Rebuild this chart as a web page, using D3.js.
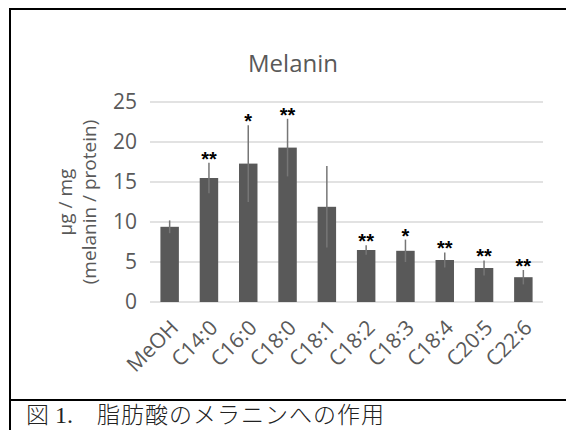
<!DOCTYPE html>
<html>
<head>
<meta charset="utf-8">
<script src="https://cdn.jsdelivr.net/npm/d3@7"></script>
<style>
  html, body { margin: 0; padding: 0; background: #fff; }
  svg { display: block; }
</style>
</head>
<body>
<svg id="chart" width="566" height="430"></svg>
<script>
// data
var categories = ["MeOH", "C14:0", "C16:0", "C18:0", "C18:1", "C18:2", "C18:3", "C18:4", "C20:5", "C22:6"];
var means  = [9.4, 15.5, 17.3, 19.3, 11.9, 6.5, 6.4, 5.25, 4.25, 3.1];
var errors = [0.8, 1.9, 4.8, 3.6, 5.1, 0.6, 1.4, 0.95, 0.95, 0.9];
var marks  = ["", "**", "*", "**", "", "**", "*", "**", "**", "**"];
var yTicks = [0, 5, 10, 15, 20, 25];

var data = categories.map(function(c, i) {
  return { cat: c, mean: means[i], err: errors[i], mark: marks[i] };
});

var svg = d3.select("#chart");
var gray = "#595959";
var font = "'Open Sans', 'DejaVu Sans', sans-serif";

svg.append("rect").attr("width", 566).attr("height", 430).attr("fill", "#fff");

// frame
svg.append("line").attr("x1", 9).attr("x2", 566).attr("y1", 9).attr("y2", 9)
  .attr("stroke", "#000").attr("stroke-width", 2);
svg.append("line").attr("x1", 10).attr("x2", 10).attr("y1", 8).attr("y2", 430)
  .attr("stroke", "#000").attr("stroke-width", 2);
svg.append("line").attr("x1", 9).attr("x2", 566).attr("y1", 400).attr("y2", 400)
  .attr("stroke", "#000").attr("stroke-width", 2);

// scales
var x = d3.scaleBand().domain(categories).range([150, 543])
  .paddingInner(0.53).paddingOuter(0.265);
var y = d3.scaleLinear().domain([0, 25]).range([302, 102]);

// gridlines
svg.append("g").selectAll("line")
  .data(yTicks)
  .enter().append("line")
    .attr("x1", 150).attr("x2", 543)
    .attr("y1", function(d) { return y(d); })
    .attr("y2", function(d) { return y(d); })
    .attr("stroke", "#d9d9d9")
    .attr("stroke-width", 1.5);

// y axis labels
var yAxis = svg.append("g")
    .attr("transform", "translate(137,0)")
    .call(d3.axisLeft(y).tickValues(yTicks).tickSize(0).tickPadding(0));
yAxis.select(".domain").remove();
yAxis.selectAll("text")
    .attr("fill", gray)
    .style("font-family", font)
    .style("font-size", "21px");

// y axis title (two lines)
var yTitle = svg.append("text")
    .attr("transform", "translate(0,202) rotate(-90)")
    .attr("text-anchor", "middle")
    .attr("fill", gray)
    .style("font-family", font)
    .style("font-size", "19px");
yTitle.append("tspan").attr("x", 0).attr("y", 72).text("μg / mg");
yTitle.append("tspan").attr("x", 0).attr("y", 96).text("(melanin / protein)");

// chart title
svg.append("text")
    .attr("x", 293).attr("y", 72)
    .attr("text-anchor", "middle")
    .attr("fill", gray)
    .style("font-family", font)
    .style("font-size", "24px")
    .text("Melanin");

// bars
svg.append("g").selectAll("rect")
  .data(data)
  .enter().append("rect")
    .attr("x", function(d) { return x(d.cat); })
    .attr("width", x.bandwidth())
    .attr("y", function(d) { return y(d.mean); })
    .attr("height", function(d) { return y(0) - y(d.mean); })
    .attr("fill", gray);

// error bars
svg.append("g").selectAll("line")
  .data(data)
  .enter().append("line")
    .attr("x1", function(d) { return x(d.cat) + x.bandwidth() / 2; })
    .attr("x2", function(d) { return x(d.cat) + x.bandwidth() / 2; })
    .attr("y1", function(d) { return y(d.mean - d.err); })
    .attr("y2", function(d) { return y(d.mean + d.err); })
    .attr("stroke", "#767676")
    .attr("stroke-width", 1.5);

// significance marks
svg.append("g").selectAll("text")
  .data(data)
  .enter().append("text")
    .attr("x", function(d) { return x(d.cat) + x.bandwidth() / 2; })
    .attr("y", function(d) { return y(d.mean + d.err) + 3; })
    .attr("text-anchor", "middle")
    .attr("fill", "#000")
    .style("font-family", "'Liberation Sans', Arial, sans-serif")
    .style("font-weight", "bold")
    .style("font-size", "20px")
    .text(function(d) { return d.mark; });

// x axis labels
var xAxis = svg.append("g")
    .attr("transform", "translate(0,302)")
    .call(d3.axisBottom(x).tickSize(0).tickPadding(0));
xAxis.select(".domain").remove();
xAxis.selectAll("text")
    .attr("fill", gray)
    .style("font-family", font)
    .style("font-size", "21px")
    .attr("text-anchor", "end")
    .attr("dy", 0)
    .attr("transform", "translate(10,27) rotate(-45)");

// caption
var cap = svg.append("g")
    .attr("fill", "#222")
    .style("font-size", "23px");
cap.append("text").attr("x", 26).attr("y", 423)
    .style("font-family", "'Noto Sans CJK JP', sans-serif")
    .style("font-weight", 300)
    .text("図");
cap.append("text").attr("x", 55).attr("y", 423)
    .style("font-family", "'Liberation Serif', 'DejaVu Serif', serif")
    .style("font-size", "24px")
    .text("1.");
cap.append("text").attr("x", 97).attr("y", 423)
    .style("font-family", "'Noto Sans CJK JP', sans-serif")
    .style("font-weight", 300)
    .attr("letter-spacing", "1px")
    .text("脂肪酸のメラニンへの作用");
</script>
</body>
</html>
